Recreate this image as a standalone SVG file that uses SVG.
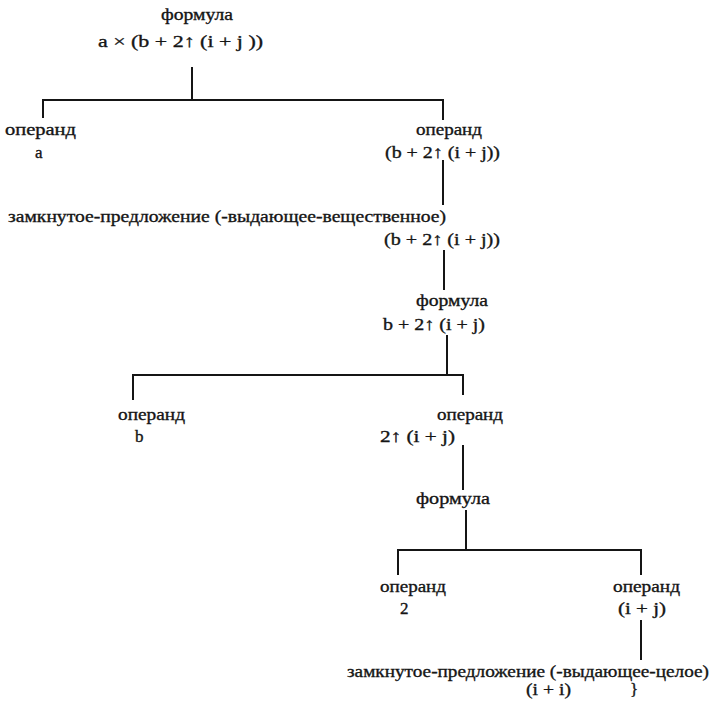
<svg xmlns="http://www.w3.org/2000/svg" width="711" height="701" viewBox="0 0 711 701" font-family="'Liberation Serif', 'DejaVu Serif', serif">
<style>
text{font-family:'Liberation Serif','DejaVu Serif',serif;font-size:17px;fill:#151515;stroke:#151515;stroke-width:0.35;}
.c line{stroke:#151515;stroke-width:2;}
</style>
<rect width="711" height="701" fill="#fff"/>
<g class="c" id="connectors">
<line x1="192" y1="67" x2="192" y2="101"/>
<line x1="42" y1="100" x2="444" y2="100"/>
<line x1="43" y1="99" x2="43" y2="118"/>
<line x1="443" y1="99" x2="443" y2="120"/>
<line x1="443" y1="160" x2="443" y2="205"/>
<line x1="444" y1="250" x2="444" y2="290"/>
<line x1="447" y1="335" x2="447" y2="376"/>
<line x1="132" y1="375" x2="464" y2="375"/>
<line x1="133" y1="374" x2="133" y2="400"/>
<line x1="463" y1="374" x2="463" y2="395"/>
<line x1="463" y1="445" x2="463" y2="490"/>
<line x1="466" y1="510" x2="466" y2="551"/>
<line x1="397" y1="550" x2="642" y2="550"/>
<line x1="398" y1="549" x2="398" y2="575"/>
<line x1="641" y1="549" x2="641" y2="575"/>
<line x1="641" y1="620" x2="641" y2="660"/>
</g>
<g id="n1"><text x="161" y="20" textLength="72" lengthAdjust="spacingAndGlyphs">формула</text><text x="98" y="47" textLength="165" lengthAdjust="spacingAndGlyphs">a × (b + 2↑ (i  + j ))</text></g>
<g id="n2"><text x="5" y="135" textLength="71" lengthAdjust="spacingAndGlyphs">операнд</text><text x="35" y="158">a</text></g>
<g id="n3"><text x="416" y="135" textLength="66" lengthAdjust="spacingAndGlyphs">операнд</text><text x="385" y="158" textLength="115" lengthAdjust="spacingAndGlyphs">(b + 2↑ (i + j))</text></g>
<g id="n4"><text x="8" y="222" textLength="438" lengthAdjust="spacingAndGlyphs">замкнутое-предложение (-выдающее-вещественное)</text><text x="384" y="245" textLength="116" lengthAdjust="spacingAndGlyphs">(b + 2↑ (i + j))</text></g>
<g id="n5"><text x="416" y="306" textLength="72" lengthAdjust="spacingAndGlyphs">формула</text><text x="383" y="330" textLength="102" lengthAdjust="spacingAndGlyphs">b + 2↑ (i + j)</text></g>
<g id="n6"><text x="118" y="420" textLength="67" lengthAdjust="spacingAndGlyphs">операнд</text><text x="135" y="442">b</text></g>
<g id="n7"><text x="437" y="420" textLength="66" lengthAdjust="spacingAndGlyphs">операнд</text><text x="380" y="442" textLength="75" lengthAdjust="spacingAndGlyphs">2↑ (i + j)</text></g>
<g id="n8"><text x="416" y="504" textLength="74" lengthAdjust="spacingAndGlyphs">формула</text></g>
<g id="n9"><text x="380" y="592" textLength="66" lengthAdjust="spacingAndGlyphs">операнд</text><text x="400" y="614">2</text></g>
<g id="n10"><text x="613" y="592" textLength="67" lengthAdjust="spacingAndGlyphs">операнд</text><text x="618" y="614" textLength="48" lengthAdjust="spacingAndGlyphs">(i + j)</text></g>
<g id="n11"><text x="347" y="677" textLength="362" lengthAdjust="spacingAndGlyphs">замкнутое-предложение (-выдающее-целое)</text><text x="526" y="695" textLength="45" lengthAdjust="spacingAndGlyphs">(i + i)</text><text x="630" y="695">}</text></g>
</svg>
